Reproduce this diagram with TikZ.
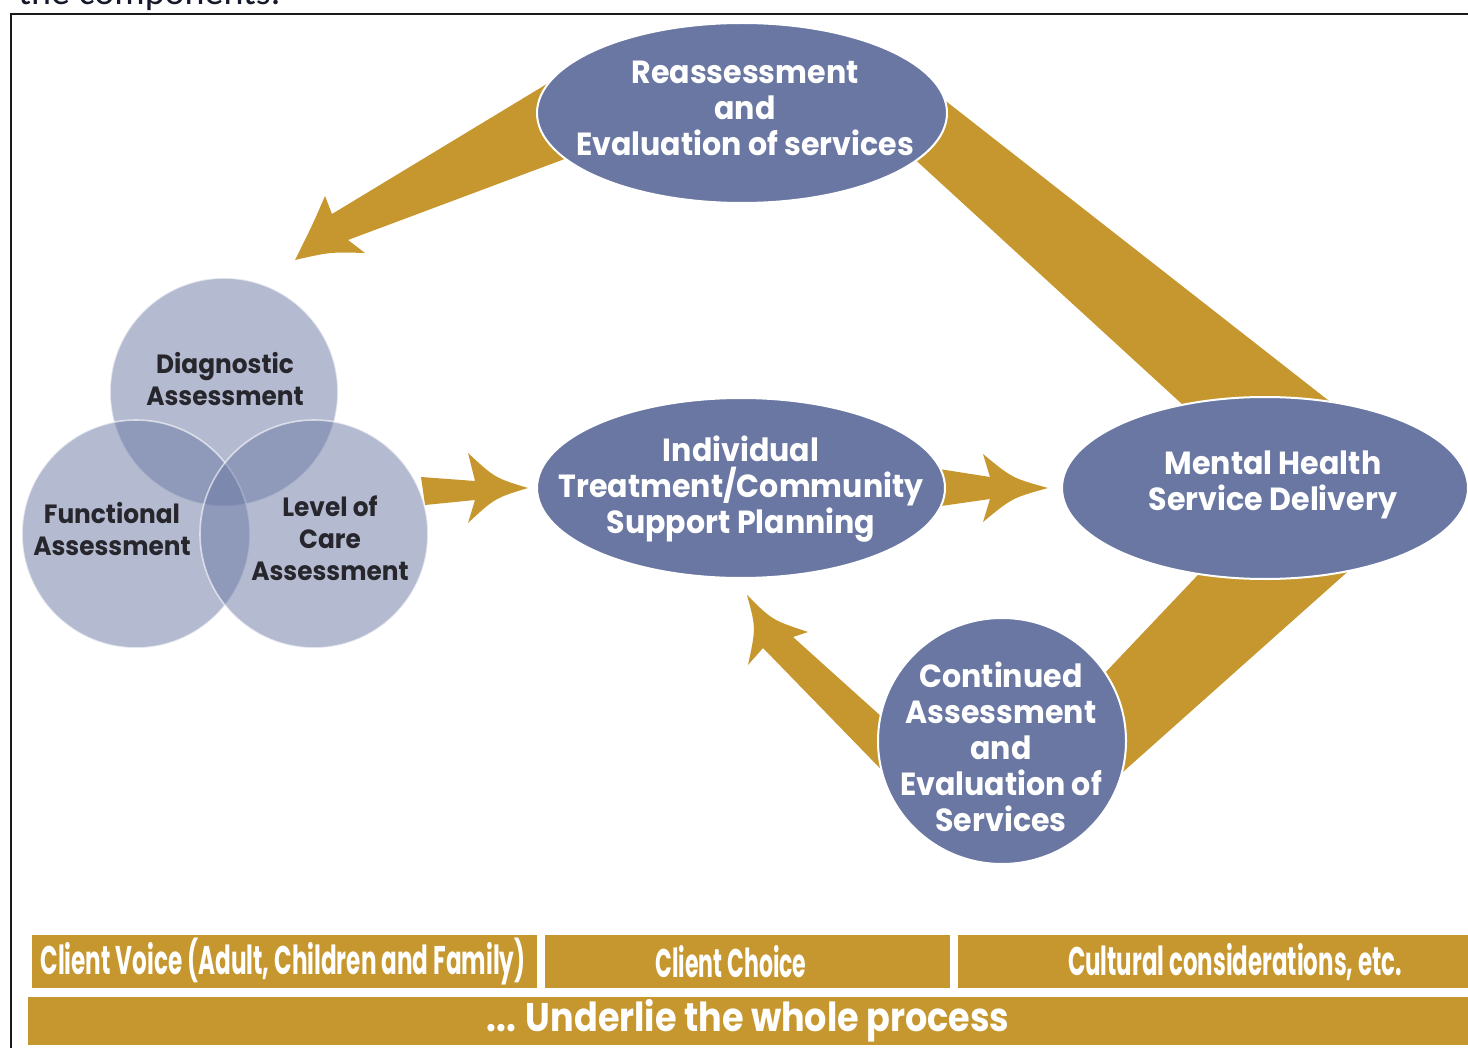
\documentclass[tikz,border=0pt]{standalone}
\usepackage{fontspec}
\usepackage{graphicx}
\setmainfont{Poppins}[FakeStretch=0.94]
\newfontfamily\topfont{Carlito}
\usetikzlibrary{shapes.geometric}
\definecolor{ellblue}{RGB}{106,119,163}
\definecolor{gold}{RGB}{198,151,47}
\definecolor{venntxt}{RGB}{38,38,44}
\definecolor{navytxt}{RGB}{22,24,44}
\begin{document}
\begin{tikzpicture}[x=0.5pt,y=-0.5pt,
  ell/.style={ellipse, fill=ellblue, draw=white, line width=1pt, inner sep=0pt},
  wtxt/.style={text=white, font=\bfseries\fontsize{16}{18}\selectfont, align=center, inner sep=0pt},
  vtxt/.style={text=venntxt, font=\bfseries\fontsize{13.2}{16}\selectfont, align=center, inner sep=0pt},
  venn/.style={circle, fill=ellblue, fill opacity=0.5, draw=white, draw opacity=0.6, line width=0.8pt, minimum size=114pt, inner sep=0pt},
  goldshape/.style={fill=gold},
  bar/.style={fill=gold, inner sep=0pt, anchor=north west},
  bartxt/.style={text=white, inner sep=0pt, font=\bfseries\fontsize{20}{22}\selectfont}]
\useasboundingbox (0,0) rectangle (1468,1048);

% caption fragment and frame
\node[anchor=base west, inner sep=0pt, text=navytxt, font=\topfont\fontsize{19}{20}\selectfont] (cap) at (18,5) {the components.};
\draw[line width=1.3pt, black!90] (11,1048) -- (11,14) -- (1468,14);

% bands and arrows (under the ellipses)
\fill[goldshape] (901,66) -- (1356,422) -- (1207,427) -- (885,132) -- cycle;
\fill[goldshape] (1213,559) -- (1084,695) -- (1096,796) -- (1372,550) -- cycle;
\fill[goldshape] (579,64.5) -- (332,214) -- (325,196) .. controls (312,226) .. (295,260)
   .. controls (330,252) .. (365,253) -- (348,240) -- (594,148) -- cycle;
\fill[goldshape] (421,477) -- (475,481) -- (468,453) .. controls (495,478) .. (528,488)
   .. controls (495,498) .. (468,523) -- (475,500) -- (425,505) -- cycle;
\fill[goldshape] (920,466) -- (990,477) -- (983,454) .. controls (1012,478) .. (1048,488)
   .. controls (1012,498) .. (983,522) -- (990,499) -- (920,509) -- cycle;
\fill[goldshape] (903,736) -- (793,637) -- (808,632) .. controls (772,620) .. (747,595)
   .. controls (756,628) .. (748,665) -- (763,648) -- (905,794) -- cycle;

% ellipses
\node[ell, minimum width=205pt, minimum height=90pt] (reass) at (742,113) {};
\node[wtxt] (reasst) at (745,108) {Reassessment\\and\\Evaluation of services};
\node[ell, minimum width=204pt, minimum height=90pt] (plan) at (741,488) {};
\node[wtxt] (plant) at (741,489) {Individual\\Treatment/Community\\Support Planning};
\node[ell, minimum width=203pt, minimum height=91pt] (mhsd) at (1265,488) {};
\node[wtxt] (mhsdt) at (1273,485) {Mental Health\\Service Delivery};
\node[ell, minimum width=124pt, minimum height=123pt] (cont) at (1002,741) {};
\node[wtxt] (contt) at (1001,747) {Continued\\Assessment\\and\\Evaluation of\\Services};

% Venn circles
\node[venn] (diag) at (224,392) {};
\node[venn] (func) at (136,534) {};
\node[venn] (loc) at (314,534) {};
\node[vtxt] (diagt) at (225,379) {Diagnostic\\Assessment};
\node[vtxt] (funct) at (112,529) {Functional\\Assessment};
\node[vtxt] (loct) at (330,538) {Level of\\Care\\Assessment};

% bottom bars
\node[bar, minimum width=252.5pt, minimum height=26.5pt] (b1) at (32,935) {};
\node[bar, minimum width=202.5pt, minimum height=26.5pt] (b2) at (545,935) {};
\node[bar, minimum width=255pt, minimum height=26.5pt] (b3) at (958,935) {};
\node[bar, minimum width=720pt, minimum height=24pt] (b4) at (28,997) {};
\node[bartxt] (b1t) at (283,962) {\resizebox{242.5pt}{\height}{Client Voice (Adult, Children and Family)}};
\node[bartxt] (b2t) at (731,962) {\resizebox{75.5pt}{\height}{Client Choice}};
\node[bartxt] (b3t) at (1235,962) {\resizebox{167pt}{\height}{Cultural considerations, etc.}};
\node[bartxt] (b4t) at (748,1021) {\resizebox{261.5pt}{\height}{... Underlie the whole process}};
\end{tikzpicture}
\end{document}
